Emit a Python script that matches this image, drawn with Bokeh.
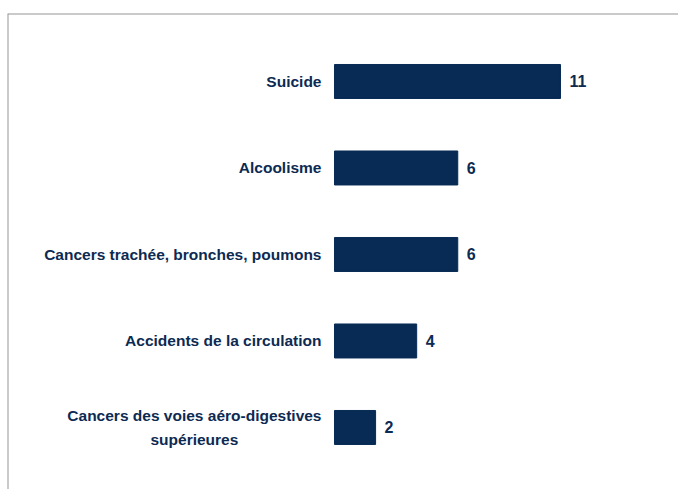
from bokeh.plotting import figure
from bokeh.models import ColumnDataSource, Range1d, Span
from bokeh.core.properties import value
from bokeh.embed import file_html
from bokeh.resources import INLINE

categories = ["Suicide", "Alcoolisme", "Cancers trachée, bronches, poumons",
              "Accidents de la circulation",
              "Cancers des voies aéro-digestives\nsupérieures"]
values = [11, 6, 6, 4, 2]

n = len(categories)
ys = [n - 1 - i for i in range(n)]
src = ColumnDataSource(dict(y=ys, v=values, cat=categories,
                            lab=[str(v) for v in values], zero=[0] * n))

NAVY = "#072b54"
TXT = "#0c2a52"
FONT = value("Liberation Sans")

X0, X1 = -15.916, 16.744
Y0, Y1 = -0.717, 4.786

p = figure(width=678, height=489, output_backend="svg", toolbar_location=None,
           x_range=Range1d(X0, X1), y_range=Range1d(Y0, Y1),
           min_border_top=13, min_border_left=7, min_border_right=0, min_border_bottom=0)
p.axis.visible = False
p.grid.visible = False
p.outline_line_color = None
p.background_fill_color = "white"
p.border_fill_color = "white"

p.hbar(y="y", right="v", left=0, height=0.393, source=src,
       fill_color=NAVY, line_color=NAVY)

p.text(x="zero", y="y", text="cat", source=src, x_offset=-13,
       anchor="center_right", text_align="center", text_baseline="middle",
       text_font=FONT, text_font_style="bold", text_font_size="15.5px",
       text_line_height=1.4, text_color=TXT)

p.text(x="v", y="y", text="lab", source=src, x_offset=9,
       text_align="left", text_baseline="middle",
       text_font=FONT, text_font_style="bold", text_font_size="16px",
       text_color=TXT)

p.add_layout(Span(location=Y1, dimension="width", line_color="#969696", line_width=2))
p.add_layout(Span(location=X0, dimension="height", line_color="#969696", line_width=2))

open("out.html", "w").write(file_html(p, INLINE))
